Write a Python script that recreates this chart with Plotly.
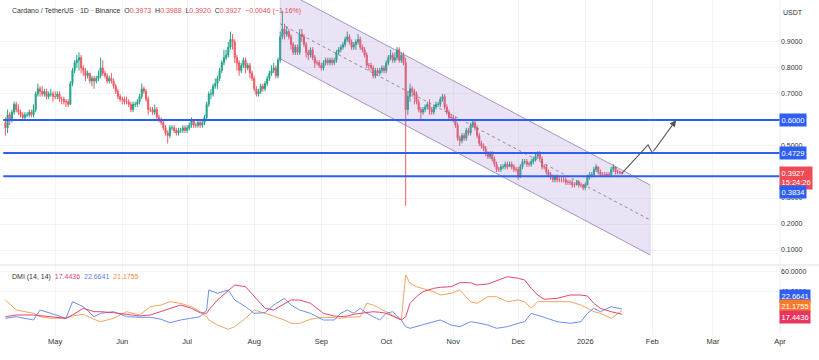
import pandas as pd
import plotly.graph_objects as go
from plotly.subplots import make_subplots

# ---------------- data ----------------
dates = pd.date_range("2025-04-08", "2026-01-18", freq="D")

close = [
    # Apr 8-30
    .57, .62, .60, .63, .66, .64, .63, .62, .61, .62, .62, .63, .62, .64, .70, .72, .71, .70, .71, .69, .70, .70, .69,
    # May
    .69, .70, .68, .68, .67, .67, .66, .74, .79, .82, .83, .84, .80, .79, .77, .78, .75, .76, .75, .76, .77,
    .80, .78, .77, .75, .76, .75, .73, .71, .69, .68,
    # Jun
    .68, .67, .67, .66, .64, .66, .66, .67, .69, .72, .71, .68, .64, .64, .63, .64, .61, .60, .59, .57,
    .55, .54, .57, .57, .56, .55, .56, .56, .57, .56,
    # Jul
    .57, .58, .60, .58, .58, .59, .58, .59, .61, .66, .70, .70, .73, .74, .76, .79, .82, .84, .85, .88,
    .91, .90, .84, .82, .79, .81, .83, .80, .81, .78, .76,
    # Aug
    .72, .70, .71, .73, .72, .74, .76, .78, .79, .80, .77, .83, .92, .95, .93, .94, .92, .89, .86, .88,
    .86, .93, .92, .89, .86, .85, .87, .84, .82, .82, .81,
    # Sep
    .80, .82, .83, .82, .83, .82, .83, .86, .87, .88, .89, .91, .92, .90, .88, .89, .90, .91, .88, .87,
    .85, .81, .81, .80, .77, .79, .78, .79, .80, .79,
    # Oct
    .82, .84, .85, .83, .84, .87, .83, .85, .82, .64, .69, .72, .71, .70, .67, .64, .63, .64, .65, .66,
    .64, .63, .65, .66, .66, .68, .69, .65, .63, .61, .61,
    # Nov
    .60, .58, .53, .52, .54, .53, .56, .55, .58, .59, .57, .54, .51, .50, .49, .47, .46, .47, .45, .43,
    .41, .41, .42, .42, .43, .42, .43, .42, .41, .41,
    # Dec
    .38, .42, .44, .44, .43, .43, .44, .45, .46, .47, .45, .42, .42, .40, .39, .38, .37, .38, .37, .37,
    .37, .37, .36, .36, .36, .35, .35, .36, .35, .35, .34,
    # Jan 1-18
    .35, .38, .39, .39, .41, .42, .40, .39, .39, .39, .39, .39, .41, .42, .40, .40, .3973, .3927,
]

high = [
    .61, .64, .63, .64, .67, .67, .66, .64, .63, .63, .63, .64, .64, .66, .71, .74, .73, .73, .72, .72, .71, .72, .71,
    .71, .71, .71, .69, .69, .68, .68, .75, .80, .83, .85, .86, .85, .81, .80, .79, .78, .77, .77, .77, .79,
    .84, .83, .79, .78, .77, .78, .76, .74, .72, .70,
    .69, .69, .69, .68, .67, .67, .67, .68, .70, .74, .73, .72, .69, .65, .65, .66, .65, .62, .61, .60,
    .58, .56, .58, .58, .58, .57, .57, .57, .58, .58,
    .58, .59, .61, .60, .59, .60, .60, .60, .62, .67, .71, .72, .74, .76, .77, .80, .83, .87, .87, .90,
    .94, .93, .91, .85, .83, .82, .84, .84, .82, .82, .79,
    .77, .73, .72, .74, .74, .75, .77, .79, .81, .82, .81, .84, .94, 1.02, .97, .96, .95, .93, .90, .89,
    .89, .95, .95, .93, .90, .87, .88, .88, .85, .83, .83,
    .82, .83, .84, .84, .84, .84, .84, .87, .88, .89, .90, .92, .94, .93, .91, .90, .91, .93, .92, .89,
    .88, .86, .82, .82, .81, .80, .80, .80, .81, .81,
    .83, .85, .87, .86, .86, .88, .88, .86, .86, .84, .71, .74, .73, .72, .71, .68, .65, .65, .66, .67,
    .68, .65, .66, .67, .67, .69, .70, .70, .66, .64, .62,
    .62, .61, .59, .54, .55, .55, .57, .57, .59, .60, .60, .58, .55, .52, .51, .50, .48, .48, .48, .46,
    .44, .42, .43, .43, .44, .44, .44, .44, .43, .42,
    .42, .43, .45, .45, .45, .44, .45, .46, .47, .48, .48, .46, .43, .43, .41, .40, .39, .39, .39, .38,
    .38, .38, .38, .37, .37, .37, .36, .37, .37, .36, .35,
    .36, .39, .40, .40, .42, .43, .42, .41, .40, .40, .40, .40, .42, .43, .42, .41, .405, .3988,
]

low = [
    .54, .55, .58, .59, .62, .63, .62, .61, .60, .60, .61, .61, .61, .61, .63, .69, .69, .69, .69, .68, .68, .69, .67,
    .68, .68, .67, .66, .66, .65, .65, .66, .73, .78, .80, .79, .78, .77, .75, .76, .74, .73, .72, .74, .75,
    .76, .77, .76, .74, .74, .74, .72, .70, .68, .67,
    .66, .66, .66, .65, .63, .63, .65, .65, .66, .68, .70, .67, .62, .63, .62, .62, .60, .59, .58, .56,
    .54, .51, .53, .56, .55, .54, .54, .55, .55, .55,
    .55, .56, .57, .57, .57, .57, .57, .57, .58, .60, .65, .68, .69, .72, .72, .75, .78, .81, .83, .84,
    .87, .87, .82, .79, .77, .78, .80, .78, .79, .76, .75,
    .71, .69, .69, .70, .71, .71, .73, .75, .77, .78, .76, .76, .82, .91, .91, .92, .91, .87, .85, .85,
    .85, .85, .90, .88, .84, .83, .84, .83, .80, .81, .80,
    .79, .79, .81, .81, .81, .81, .81, .82, .85, .86, .87, .88, .90, .89, .87, .87, .87, .89, .87, .86,
    .84, .80, .79, .79, .76, .76, .77, .77, .78, .78,
    .78, .81, .83, .82, .82, .83, .82, .82, .81, .27, .62, .67, .69, .66, .66, .63, .60, .62, .63, .64,
    .62, .62, .62, .64, .65, .65, .67, .64, .62, .60, .60,
    .59, .57, .52, .50, .51, .52, .52, .54, .54, .57, .56, .53, .50, .49, .48, .46, .45, .45, .44, .42,
    .40, .40, .40, .41, .41, .41, .42, .41, .40, .40,
    .37, .38, .41, .43, .42, .42, .42, .43, .44, .45, .44, .41, .41, .39, .38, .37, .36, .36, .36, .36,
    .36, .36, .35, .35, .35, .34, .34, .35, .34, .34, .33,
    .33, .35, .37, .38, .38, .40, .39, .38, .38, .38, .38, .38, .38, .40, .39, .39, .39, .3920,
]

first_open = 0.59
open_ = [first_open] + close[:-1]

# DMI (14, 14) readings
dmi_dates = ['2025-04-08', '2025-04-13', '2025-04-21', '2025-04-24', '2025-04-29', '2025-05-06', '2025-05-09',
             '2025-05-14', '2025-05-19', '2025-05-22', '2025-05-28', '2025-06-03', '2025-06-09', '2025-06-14',
             '2025-06-19', '2025-06-23', '2025-06-28', '2025-07-03', '2025-07-07', '2025-07-10', '2025-07-11',
             '2025-07-15', '2025-07-20', '2025-07-23', '2025-07-28', '2025-08-01', '2025-08-06', '2025-08-10',
             '2025-08-15', '2025-08-18', '2025-08-22', '2025-08-27', '2025-09-02', '2025-09-07', '2025-09-10',
             '2025-09-13', '2025-09-16', '2025-09-19', '2025-09-22', '2025-09-25', '2025-09-28', '2025-10-01',
             '2025-10-04', '2025-10-08', '2025-10-10', '2025-10-12', '2025-10-15', '2025-10-18', '2025-10-23',
             '2025-10-26', '2025-10-31', '2025-11-04', '2025-11-09', '2025-11-12', '2025-11-17', '2025-11-21',
             '2025-11-26', '2025-12-01', '2025-12-04', '2025-12-07', '2025-12-10', '2025-12-13', '2025-12-19',
             '2025-12-25', '2025-12-30', '2026-01-02', '2026-01-05', '2026-01-08', '2026-01-13', '2026-01-18']
plus_di = [13.4, 15.0, 11.7, 21.7, 18.4, 13.4, 30.0, 25.0, 15.0, 18.4, 20.0, 15.0, 14.4, 14.4, 12.4, 9.0, 11.7,
           13.4, 15.0, 21.7, 41.7, 38.4, 41.7, 31.7, 25.0, 18.4, 19.0, 26.7, 33.4, 26.7, 21.7, 18.4, 11.7, 11.7,
           18.4, 21.7, 18.4, 23.4, 18.4, 15.0, 11.7, 18.4, 20.0, 11.7, 5.0, 3.4, 5.0, 6.7, 10.0, 11.7, 6.7, 5.0,
           10.0, 9.0, 6.7, 3.4, 5.0, 8.4, 10.0, 18.4, 16.7, 14.4, 10.0, 8.4, 10.0, 18.4, 23.4, 20.0, 25.0, 22.6641]
minus_di = [31.7, 21.7, 18.4, 15.0, 13.4, 13.4, 15.7, 17.4, 12.4, 10.0, 13.4, 20.0, 16.7, 25.0, 26.7, 30.0, 28.4,
            25.0, 20.0, 15.0, 11.7, 6.7, 2.4, 5.0, 13.4, 21.7, 18.4, 15.7, 11.7, 8.4, 8.4, 12.4, 14.4, 14.0, 13.4,
            14.4, 15.0, 15.0, 28.4, 26.7, 23.4, 20.0, 16.7, 11.7, 56.7, 48.4, 45.0, 43.4, 40.0, 36.7, 38.4, 41.7,
            30.0, 28.4, 35.0, 35.0, 30.0, 31.7, 30.0, 23.4, 30.0, 30.0, 30.0, 30.0, 26.7, 23.4, 20.0, 18.4, 13.4,
            21.1755]
adx = [15.0, 16.7, 16.7, 16.0, 15.0, 13.4, 16.7, 23.4, 20.0, 20.0, 19.0, 17.4, 15.7, 16.7, 20.0, 23.4, 26.7, 23.4,
       19.0, 18.4, 21.7, 31.7, 41.7, 46.7, 45.0, 35.0, 23.4, 21.7, 28.4, 31.7, 31.7, 28.4, 18.4, 15.7, 15.0, 15.7,
       17.4, 18.4, 19.4, 20.0, 19.4, 18.4, 15.7, 11.7, 15.0, 28.4, 35.0, 40.0, 43.4, 44.4, 45.0, 49.0, 49.0, 46.7,
       47.7, 51.0, 55.0, 53.4, 51.7, 43.4, 36.7, 32.4, 33.4, 36.7, 36.7, 35.7, 28.4, 23.4, 20.0, 17.4436]

# drawn objects
levels = [0.6000, 0.4729, 0.3834]
level_start = "2025-04-07"
channel_dates = ["2025-08-13", "2026-01-31"]
channel_upper = [1.104, 0.350]
channel_lower = [0.835, 0.081]
channel_mid = [0.970, 0.2155]
path_dates = ["2026-01-18", "2026-01-30", "2026-02-01", "2026-02-12"]
path_prices = [0.396, 0.504, 0.474, 0.600]

month_ticks = ["2025-05-01", "2025-06-01", "2025-07-01", "2025-08-01", "2025-09-01", "2025-10-01",
               "2025-11-01", "2025-12-01", "2026-01-01", "2026-02-01", "2026-03-01", "2026-04-01"]
month_labels = ["May", "Jun", "Jul", "Aug", "Sep", "Oct", "Nov", "Dec", "2026", "Feb", "Mar", "Apr"]
price_ticks = [0.1, 0.2, 0.3, 0.5, 0.7, 0.8, 0.9]   # 0.4 / 0.6 are hidden under price tags
price_grid = [0.1, 0.2, 0.3, 0.4, 0.5, 0.6, 0.7, 0.8, 0.9]
dmi_ticks = [40, 60]

# ---------------- figure ----------------
FONT = "Liberation Sans, Arial, sans-serif"
UP, DOWN = "#22a58a", "#ee5a64"
BLUE = "#2f5ff0"
W, H = 819, 360
ML, MR, MT, MB = 0, 39, 0, 25
PH = H - MT - MB
PW = W - ML - MR
split = 70 / PH

fig = make_subplots(rows=2, cols=1, shared_xaxes=True, vertical_spacing=0)

grid = "rgba(0,0,0,0.045)"
# faint price grid for hidden-label levels
for g in (0.4, 0.6):
    fig.add_hline(y=g, line=dict(color=grid, width=1), row=1, col=1, layer="below")

# channel fill
fig.add_trace(go.Scatter(
    x=[channel_dates[0], channel_dates[1], channel_dates[1], channel_dates[0], channel_dates[0]],
    y=[channel_upper[0], channel_upper[1], channel_lower[1], channel_lower[0], channel_upper[0]],
    fill="toself", fillcolor="rgba(149,117,205,0.20)", mode="lines",
    line=dict(color="rgba(149,117,205,0.25)", width=0.8), hoverinfo="skip", showlegend=False), 1, 1)
for yy in (channel_upper, channel_lower):
    fig.add_trace(go.Scatter(x=channel_dates, y=yy, mode="lines",
                             line=dict(color="rgba(120,105,160,0.55)", width=1),
                             hoverinfo="skip", showlegend=False), 1, 1)
fig.add_trace(go.Scatter(x=channel_dates, y=channel_mid, mode="lines",
                         line=dict(color="rgba(110,110,130,0.75)", width=1, dash="3px,3px"),
                         hoverinfo="skip", showlegend=False), 1, 1)

# horizontal levels
for lv in levels:
    fig.add_trace(go.Scatter(x=[level_start, "2026-04-01"], y=[lv, lv], mode="lines",
                             line=dict(color=BLUE, width=2), hoverinfo="skip", showlegend=False), 1, 1)

# candles
fig.add_trace(go.Candlestick(
    x=dates, open=open_, high=high, low=low, close=close,
    increasing=dict(line=dict(color=UP, width=1), fillcolor=UP),
    decreasing=dict(line=dict(color=DOWN, width=1), fillcolor=DOWN),
    whiskerwidth=0, showlegend=False), 1, 1)

# projection path
fig.add_trace(go.Scatter(x=path_dates[:3], y=path_prices[:3], mode="lines",
                         line=dict(color="#555555", width=1.1), hoverinfo="skip", showlegend=False), 1, 1)
fig.add_annotation(x=path_dates[3], y=path_prices[3], ax=path_dates[2], ay=path_prices[2],
                   xref="x", yref="y", axref="x", ayref="y", text="", showarrow=True,
                   arrowhead=2, arrowsize=1.2, arrowwidth=1.1, arrowcolor="#555555")

# DMI lines
fig.add_trace(go.Scatter(x=dmi_dates, y=minus_di, mode="lines", line=dict(color="#f3a462", width=1),
                         showlegend=False), 2, 1)
fig.add_trace(go.Scatter(x=dmi_dates, y=plus_di, mode="lines", line=dict(color="#6d8ff0", width=1),
                         showlegend=False), 2, 1)
fig.add_trace(go.Scatter(x=dmi_dates, y=adx, mode="lines", line=dict(color="#e2476d", width=1),
                         showlegend=False), 2, 1)

fig.update_xaxes(type="date", range=["2025-04-05 12:00", "2026-04-01"], rangeslider_visible=False,
                 tickvals=month_ticks, ticktext=month_labels, showgrid=True, gridcolor=grid,
                 zeroline=False, showline=False, ticks="",
                 tickfont=dict(family=FONT, size=7.5, color="#333333"))
fig.update_xaxes(showticklabels=False, row=1, col=1)
fig.update_layout(
    xaxis=dict(domain=[0, 1]),
    yaxis=dict(domain=[split, 1], range=[0.0423, 1.0615], side="right", tickvals=price_ticks,
               tickformat=".4f", showgrid=True, gridcolor=grid, zeroline=False, ticks="",
               tickfont=dict(family=FONT, size=7, color="#333333")),
    yaxis2=dict(domain=[0, split], range=[-3.3, 66.7], side="right", tickvals=dmi_ticks,
                tickformat=".4f", showgrid=True, gridcolor=grid, zeroline=False, ticks="",
                tickfont=dict(family=FONT, size=7, color="#333333")),
)

# separators
fig.add_shape(type="line", xref="paper", yref="paper", x0=0, x1=W / PW, y0=split, y1=split,
              line=dict(color="#dfe1e8", width=1))
fig.add_shape(type="line", xref="paper", yref="paper", x0=1, x1=1, y0=0, y1=1,
              line=dict(color="#eceef3", width=1))

# header
red = "#e8505b"
hdr = ("Cardano / TetherUS · 1D · Binance  "
       f"O<span style='color:{red}'>0.3973</span>  H<span style='color:{red}'>0.3988</span>  "
       f"L<span style='color:{red}'>0.3920</span>  C<span style='color:{red}'>0.3927</span>  "
       f"<span style='color:{red}'>−0.0046 (−1.16%)</span>")
fig.add_annotation(text=hdr, xref="paper", yref="paper", x=10 / PW, y=1 - 11 / PH, xanchor="left",
                   yanchor="middle", showarrow=False, font=dict(family=FONT, size=7, color="#333333"))
fig.add_annotation(text="USDT", xref="paper", yref="paper", x=1 + 13 / PW, y=1 - 12 / PH, xanchor="center",
                   yanchor="middle", showarrow=False, font=dict(family=FONT, size=7, color="#333333"))
dmi_txt = ("DMI (14, 14)  <span style='color:#e2476d'>17.4436</span>  "
           "<span style='color:#5b7ff0'>22.6641</span>  <span style='color:#f08a3a'>21.1755</span>")
fig.add_annotation(text=dmi_txt, xref="paper", yref="paper", x=10 / PW, y=1 - 277 / PH, xanchor="left",
                   yanchor="middle", showarrow=False, font=dict(family=FONT, size=7, color="#333333"))


def tag(text, y, yref, color, yshift=0):
    fig.add_annotation(text=text, xref="paper", x=1, xanchor="left", xshift=-1, y=y, yref=yref,
                       yanchor="middle", yshift=yshift, showarrow=False, bgcolor=color, borderpad=1.5,
                       align="left", font=dict(family=FONT, size=7.5, color="white"))


tag("0.6000", 0.6000, "y", BLUE)
tag("0.4729", 0.4729, "y", BLUE)
tag("0.3927<br>15:24:26", 0.3927, "y", "#ef4b55", yshift=-4)
tag("0.3834", 0.3834, "y", BLUE, yshift=-16)
tag("22.6641", 35.5, "y2", BLUE)
tag("21.1755", 25.3, "y2", "#f47a2c")
tag("17.4436", 15.1, "y2", "#e8365f")

fig.update_layout(width=W, height=H, margin=dict(l=ML, r=MR, t=MT, b=MB),
                  paper_bgcolor="white", plot_bgcolor="white", showlegend=False,
                  font=dict(family=FONT, size=7, color="#333333"))

fig.write_html("out.html", config={"displayModeBar": False},
               post_script="document.body.style.margin='0px';document.body.style.padding='0px';")
